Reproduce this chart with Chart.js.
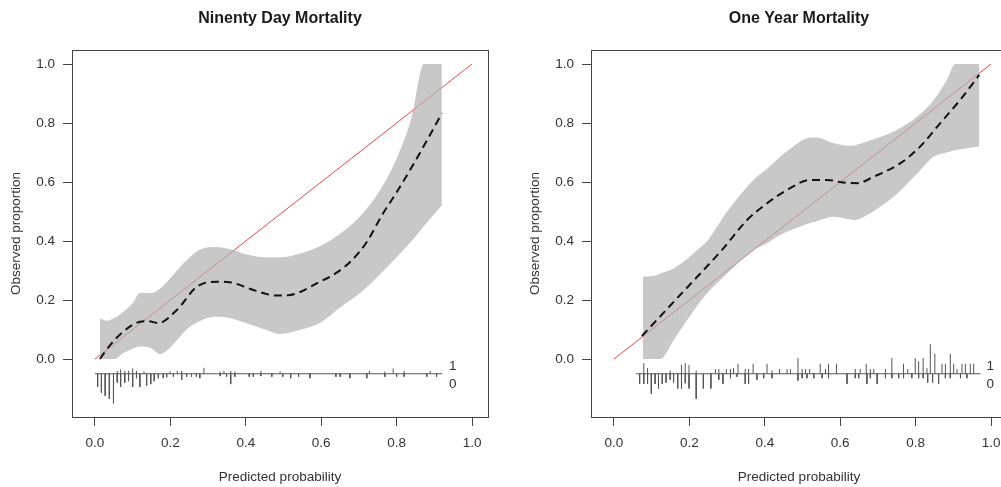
<!DOCTYPE html>
<html>
<head>
<meta charset="utf-8">
<script src="https://cdn.jsdelivr.net/npm/chart.js@4"></script>
<style>
  html, body { margin: 0; padding: 0; background: #fff; width: 1001px; height: 487px; overflow: hidden; }
  .panel { position: absolute; top: 0; width: 519px; height: 487px; }
</style>
</head>
<body>
<div class="panel" style="left:0px"><canvas id="dayChart" width="519" height="487"></canvas></div>
<div class="panel" style="left:519px"><canvas id="yearChart" width="519" height="487"></canvas></div>
<script>
// ticks shared by both panels
const xTicks = [0, 0.2, 0.4, 0.6, 0.8, 1.0];
const yTicks = [0, 0.2, 0.4, 0.6, 0.8, 1.0];
const idealX = [0, 1];
const idealY = [0, 1];
const spikeBase = -0.05;
const classLabels = ["1", "0"];
const classLabelY = [-0.025, -0.086];

// 90 day panel
const dayTitle = "Ninenty Day Mortality";
const dayCurveX = [0.013, 0.04, 0.075, 0.119, 0.14, 0.168, 0.217, 0.27, 0.323, 0.358, 0.42, 0.482, 0.517, 0.597, 0.64, 0.68, 0.72, 0.76, 0.80, 0.84, 0.88, 0.92];
const dayCurveY = [0.0, 0.047, 0.093, 0.126, 0.128, 0.122, 0.166, 0.245, 0.262, 0.26, 0.234, 0.215, 0.217, 0.262, 0.292, 0.333, 0.395, 0.485, 0.565, 0.65, 0.74, 0.833];
const dayBandX = [0.013, 0.03, 0.053, 0.075, 0.10, 0.12, 0.15, 0.172, 0.20, 0.243, 0.28, 0.32, 0.36, 0.40, 0.45, 0.49, 0.544, 0.60, 0.65, 0.70, 0.75, 0.80, 0.84, 0.872, 0.92];
const dayBandUpper = [0.138, 0.13, 0.14, 0.16, 0.19, 0.225, 0.224, 0.238, 0.275, 0.335, 0.372, 0.38, 0.372, 0.355, 0.345, 0.345, 0.358, 0.385, 0.425, 0.48, 0.56, 0.68, 0.82, 1.0, 1.0];
const dayBandLower = [0.0, 0.0, 0.0, 0.02, 0.035, 0.042, 0.036, 0.017, 0.04, 0.1, 0.13, 0.143, 0.138, 0.122, 0.1, 0.085, 0.099, 0.125, 0.175, 0.22, 0.28, 0.345, 0.4, 0.45, 0.52];
const dayRange = [0.0, 0.921];
const dayZeroX = [0.007, 0.017, 0.027, 0.038, 0.049, 0.059, 0.068, 0.079, 0.089, 0.10, 0.11, 0.119, 0.137, 0.148, 0.157, 0.168, 0.181, 0.19, 0.208, 0.23, 0.243, 0.256, 0.269, 0.278, 0.332, 0.349, 0.36, 0.371, 0.409, 0.42, 0.44, 0.469, 0.498, 0.519, 0.54, 0.57, 0.639, 0.65, 0.676, 0.721, 0.769, 0.8, 0.82, 0.88, 0.906];
const dayZeroH = [0.045, 0.064, 0.075, 0.085, 0.10, 0.03, 0.045, 0.03, 0.025, 0.045, 0.015, 0.045, 0.04, 0.035, 0.025, 0.015, 0.015, 0.012, 0.01, 0.02, 0.01, 0.01, 0.01, 0.015, 0.008, 0.01, 0.035, 0.01, 0.01, 0.01, 0.008, 0.01, 0.01, 0.015, 0.01, 0.015, 0.01, 0.01, 0.015, 0.015, 0.01, 0.01, 0.01, 0.01, 0.01];
const dayOneX = [0.059, 0.068, 0.079, 0.089, 0.10, 0.11, 0.13, 0.199, 0.218, 0.23, 0.289, 0.332, 0.342, 0.36, 0.371, 0.44, 0.491, 0.728, 0.769, 0.791, 0.82, 0.889];
const dayOneH = [0.01, 0.015, 0.01, 0.01, 0.018, 0.01, 0.008, 0.008, 0.01, 0.01, 0.02, 0.008, 0.01, 0.01, 0.008, 0.01, 0.008, 0.01, 0.008, 0.018, 0.01, 0.01];
const dayLabelX = 0.949;

// 1 year panel
const yearTitle = "One Year Mortality";
const yearCurveX = [0.074, 0.123, 0.176, 0.229, 0.286, 0.353, 0.406, 0.459, 0.521, 0.565, 0.609, 0.645, 0.689, 0.759, 0.812, 0.865, 0.918, 0.969];
const yearCurveY = [0.078, 0.145, 0.218, 0.29, 0.369, 0.471, 0.528, 0.573, 0.607, 0.607, 0.598, 0.596, 0.618, 0.663, 0.72, 0.799, 0.878, 0.963];
const yearBandX = [0.077, 0.105, 0.123, 0.158, 0.194, 0.22, 0.247, 0.3, 0.37, 0.406, 0.441, 0.47, 0.512, 0.538, 0.583, 0.618, 0.64, 0.671, 0.742, 0.804, 0.848, 0.883, 0.905, 0.94, 0.969];
const yearBandUpper = [0.279, 0.281, 0.29, 0.307, 0.34, 0.369, 0.40, 0.5, 0.607, 0.645, 0.686, 0.715, 0.748, 0.751, 0.731, 0.723, 0.725, 0.737, 0.771, 0.821, 0.878, 0.946, 1.0, 1.0, 1.0];
const yearBandLower = [0.0, 0.0, 0.0, 0.064, 0.132, 0.18, 0.223, 0.29, 0.369, 0.392, 0.42, 0.437, 0.458, 0.467, 0.482, 0.475, 0.471, 0.488, 0.55, 0.629, 0.686, 0.70, 0.708, 0.715, 0.72];
const yearRange = [0.059, 0.972];
const yearZeroX = [0.068, 0.079, 0.089, 0.099, 0.109, 0.118, 0.128, 0.138, 0.149, 0.158, 0.169, 0.179, 0.189, 0.199, 0.218, 0.237, 0.257, 0.278, 0.289, 0.309, 0.326, 0.348, 0.357, 0.379, 0.397, 0.419, 0.488, 0.499, 0.512, 0.53, 0.552, 0.569, 0.618, 0.64, 0.649, 0.671, 0.68, 0.698, 0.72, 0.737, 0.755, 0.768, 0.79, 0.808, 0.82, 0.832, 0.845, 0.861, 0.879, 0.892, 0.919, 0.936];
const yearZeroH = [0.034, 0.034, 0.034, 0.068, 0.034, 0.05, 0.034, 0.03, 0.02, 0.03, 0.05, 0.05, 0.032, 0.05, 0.085, 0.05, 0.05, 0.02, 0.034, 0.015, 0.01, 0.034, 0.034, 0.02, 0.015, 0.015, 0.023, 0.015, 0.015, 0.015, 0.015, 0.015, 0.034, 0.015, 0.015, 0.034, 0.015, 0.034, 0.015, 0.015, 0.015, 0.015, 0.015, 0.015, 0.015, 0.03, 0.03, 0.034, 0.015, 0.015, 0.015, 0.015];
const yearOneX = [0.079, 0.089, 0.149, 0.179, 0.189, 0.199, 0.218, 0.269, 0.278, 0.298, 0.309, 0.317, 0.329, 0.348, 0.357, 0.369, 0.406, 0.419, 0.439, 0.459, 0.468, 0.488, 0.499, 0.508, 0.519, 0.547, 0.561, 0.569, 0.59, 0.64, 0.653, 0.669, 0.68, 0.689, 0.72, 0.737, 0.768, 0.779, 0.799, 0.808, 0.82, 0.83, 0.839, 0.851, 0.87, 0.879, 0.892, 0.901, 0.91, 0.923, 0.932, 0.945, 0.954];
const yearOneH = [0.036, 0.019, 0.011, 0.03, 0.036, 0.03, 0.011, 0.016, 0.016, 0.016, 0.016, 0.019, 0.034, 0.016, 0.016, 0.034, 0.034, 0.011, 0.016, 0.016, 0.016, 0.053, 0.016, 0.016, 0.016, 0.034, 0.016, 0.034, 0.034, 0.016, 0.016, 0.034, 0.016, 0.016, 0.016, 0.053, 0.034, 0.016, 0.053, 0.042, 0.053, 0.019, 0.10, 0.068, 0.034, 0.034, 0.068, 0.034, 0.016, 0.034, 0.034, 0.034, 0.034];
const yearLabelX = 0.998;

const FONT = "'Liberation Sans', Arial, Helvetica, sans-serif";
const textColor = "#333";
const axisColor = "#444";

function toPoints(xs, ys) {
  return xs.map((x, i) => ({ x: x, y: ys[i] }));
}

// spike histogram as separated vertical segments
function spikePoints(zeroX, zeroH, oneX, oneH) {
  let pts = [];
  zeroX.forEach((x, i) => {
    pts.push({ x: x, y: spikeBase }, { x: x, y: spikeBase - zeroH[i] }, { x: x, y: null });
  });
  oneX.forEach((x, i) => {
    pts.push({ x: x, y: spikeBase }, { x: x, y: spikeBase + oneH[i] }, { x: x, y: null });
  });
  return pts;
}

// box around plot + "1"/"0" labels of the spike histogram
const boxPlugin = {
  id: "box",
  afterDraw(chart, args, opts) {
    const { ctx, chartArea, scales } = chart;
    ctx.save();
    ctx.strokeStyle = axisColor;
    ctx.lineWidth = 1;
    ctx.strokeRect(Math.round(chartArea.left) + 0.5, Math.round(chartArea.top) + 0.5,
      Math.round(chartArea.width), Math.round(chartArea.height));
    ctx.fillStyle = textColor;
    ctx.font = "13.5px " + FONT;
    ctx.textAlign = "center";
    ctx.textBaseline = "middle";
    classLabels.forEach((t, i) => {
      ctx.fillText(t, scales.x.getPixelForValue(opts.labelX), scales.y.getPixelForValue(classLabelY[i]));
    });
    ctx.restore();
  },
};

function makePanel(id, title, curveX, curveY, bandX, bandUp, bandLo, range, zeroX, zeroH, oneX, oneH, labelX) {
  const tickFont = { family: FONT, size: 13.5 };
  const config = {
    type: "line",
    data: {
      datasets: [
        {
          data: toPoints(idealX, idealY),
          borderColor: "rgb(240,70,70)",
          borderWidth: 1,
          pointRadius: 0,
          order: 5,
        },
        {
          data: toPoints(bandX, bandLo),
          borderColor: "rgba(0,0,0,0)",
          borderWidth: 1,
          pointRadius: 0,
          cubicInterpolationMode: "monotone",
          order: 4,
        },
        {
          data: toPoints(bandX, bandUp),
          borderColor: "rgba(0,0,0,0)",
          borderWidth: 1,
          pointRadius: 0,
          cubicInterpolationMode: "monotone",
          backgroundColor: "rgba(176,176,176,0.7)",
          fill: { target: 1 },
          order: 3,
        },
        {
          data: toPoints(curveX, curveY),
          borderColor: "#111",
          borderWidth: 2,
          borderDash: [8, 5],
          pointRadius: 0,
          cubicInterpolationMode: "monotone",
          order: 2,
        },
        {
          data: toPoints(range, [spikeBase, spikeBase]),
          borderColor: "#555",
          borderWidth: 1,
          pointRadius: 0,
          order: 1,
        },
        {
          data: spikePoints(zeroX, zeroH, oneX, oneH),
          borderColor: "#555",
          borderWidth: 1,
          pointRadius: 0,
          spanGaps: false,
          order: 0,
        },
      ],
    },
    options: {
      responsive: false,
      animation: false,
      layout: { padding: { left: 0, right: 31, top: 0, bottom: 0 } },
      plugins: {
        legend: { display: false },
        tooltip: { enabled: false },
        title: {
          display: true,
          text: title,
          fullSize: false,
          color: "#1a1a1a",
          font: { family: FONT, size: 16, weight: "bold" },
          padding: { top: 8.7, bottom: 22.1 },
        },
        box: { labelX: labelX },
      },
      scales: {
        x: {
          type: "linear",
          min: -0.061,
          max: 1.0424,
          afterBuildTicks: (s) => { s.ticks = xTicks.map((v) => ({ value: v })); },
          afterFit: (s) => { s.height = 70; },
          grid: { drawOnChartArea: false, drawTicks: true, tickLength: 9, color: axisColor },
          border: { display: false },
          ticks: { font: tickFont, color: textColor, padding: 9, maxRotation: 0, autoSkip: false, callback: (v) => v.toFixed(1) },
          title: { display: true, text: "Predicted probability", color: textColor, font: tickFont, padding: 2 },
        },
        y: {
          type: "linear",
          min: -0.1966,
          max: 1.0475,
          afterBuildTicks: (s) => { s.ticks = yTicks.map((v) => ({ value: v })); },
          afterFit: (s) => { s.width = 72; },
          grid: { drawOnChartArea: false, drawTicks: true, tickLength: 9, color: axisColor },
          border: { display: false },
          ticks: { font: tickFont, color: textColor, padding: 8, autoSkip: false, callback: (v) => v.toFixed(1) },
          title: { display: true, text: "Observed proportion", color: textColor, font: tickFont, padding: 8 },
        },
      },
    },
    plugins: [boxPlugin],
  };
  return new Chart(document.getElementById(id), config);
}

makePanel("dayChart", dayTitle, dayCurveX, dayCurveY, dayBandX, dayBandUpper, dayBandLower, dayRange, dayZeroX, dayZeroH, dayOneX, dayOneH, dayLabelX);
makePanel("yearChart", yearTitle, yearCurveX, yearCurveY, yearBandX, yearBandUpper, yearBandLower, yearRange, yearZeroX, yearZeroH, yearOneX, yearOneH, yearLabelX);
</script>
</body>
</html>
